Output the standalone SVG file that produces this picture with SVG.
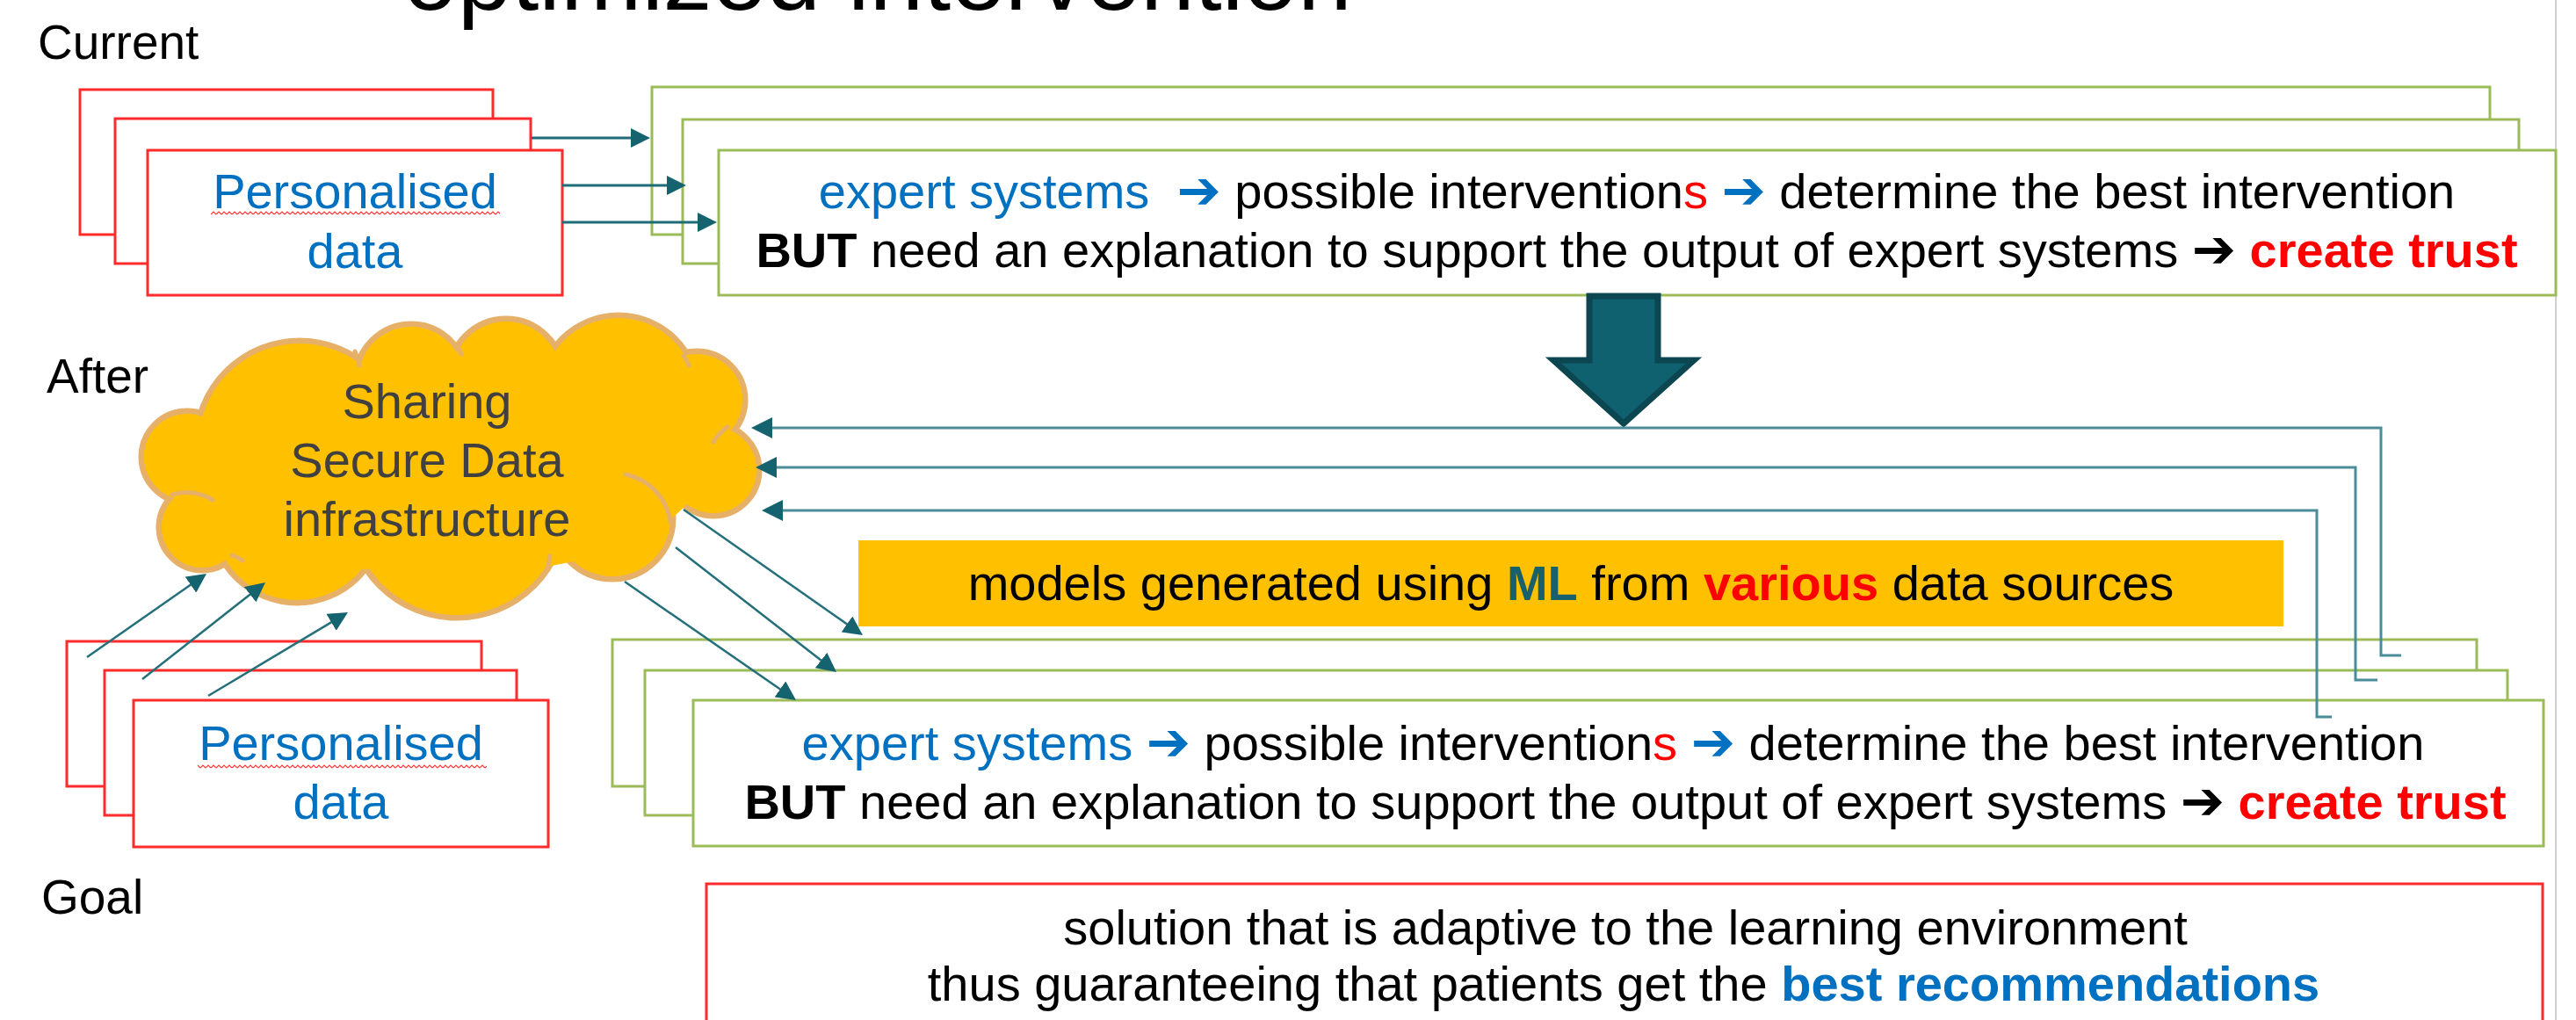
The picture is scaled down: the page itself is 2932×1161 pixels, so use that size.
<svg xmlns="http://www.w3.org/2000/svg" width="2932" height="1161" viewBox="0 0 2932 1161">
<defs>
<style>
text{font-family:"Liberation Sans",Arial,sans-serif;}
.t{font-size:56px;fill:#000;}
.lbl{font-size:55px;fill:#000;}
.pd{font-size:56px;fill:#0070C0;text-anchor:middle;}
.cl{font-size:56px;fill:#404040;text-anchor:middle;}
.red{fill:#fff;stroke:#FF2A2A;stroke-width:3;}
.grn{fill:#fff;stroke:#9BBB59;stroke-width:3;}
.b{font-weight:bold;}
.blue{fill:#0070C0;}
.rd{fill:#FF0000;}
.ar{font-family:"DejaVu Sans",sans-serif;font-weight:bold;font-size:60px;}
.con{fill:none;stroke:#1D6C77;stroke-width:3;}
.fb{fill:none;stroke:#4A8C98;stroke-width:3;}
.thin{fill:none;stroke:#236F7A;stroke-width:2.5;}
.lobe{fill:#FFC000;stroke:#E6B068;stroke-width:13;}
.lobef{fill:#FFC000;}
.inner{fill:none;stroke:#E6B068;stroke-width:5;stroke-linecap:round;}
</style>
<marker id="ah" viewBox="0 0 22 22" refX="12" refY="11" markerWidth="22" markerHeight="22" markerUnits="userSpaceOnUse" orient="auto"><path d="M0,0 L22,11 L0,22 z" fill="#15636F"/></marker>
<marker id="ah2" viewBox="0 0 24 24" refX="14" refY="12" markerWidth="24" markerHeight="24" markerUnits="userSpaceOnUse" orient="auto"><path d="M0,0 L24,12 L0,24 z" fill="#15636F"/></marker>
<pattern id="sq" width="6" height="5" patternUnits="userSpaceOnUse"><path d="M0,4 L3,1 L6,4" fill="none" stroke="#FF3030" stroke-width="1.2"/></pattern>
</defs>
<rect width="2932" height="1161" fill="#fff"/>
<line x1="2909" y1="0" x2="2909" y2="1161" stroke="#D0D0D0" stroke-width="2"/>

<g id="title"><text x="459" y="11" font-size="111" fill="#000">optimized intervention</text></g>
<g id="label-current"><text class="lbl" x="43" y="67">Current</text></g>
<g id="label-after"><text class="lbl" x="53" y="447">After</text></g>
<g id="label-goal"><text class="lbl" x="47" y="1040">Goal</text></g>

<!-- top personalised data stack -->
<g id="pd-top-1"><rect class="red" x="91" y="102" width="470" height="165"/></g>
<g id="pd-top-2"><rect class="red" x="131" y="135" width="473" height="165"/></g>
<g id="pd-top-3"><rect class="red" x="168" y="171" width="472" height="165"/>
<text class="pd" x="404" y="237">Personalised</text><text class="pd" x="404" y="305">data</text>
<rect x="240" y="240" width="329" height="5" fill="url(#sq)"/></g>

<!-- top expert systems stack -->
<g id="es-top-1"><rect class="grn" x="742" y="99" width="2092" height="168"/></g>
<g id="es-top-2"><rect class="grn" x="777" y="136" width="2090" height="164"/></g>
<g id="es-top-3"><rect class="grn" x="818" y="171" width="2091" height="165"/>
<text class="t" x="1863" y="237" text-anchor="middle"><tspan class="blue">expert systems</tspan>&#160; <tspan class="ar blue">➔</tspan> possible intervention<tspan class="rd">s</tspan> <tspan class="ar blue">➔</tspan> determine the best intervention</text>
<text class="t" x="1863" y="304" text-anchor="middle"><tspan class="b">BUT</tspan> need an explanation to support the output of expert systems <tspan class="ar">➔</tspan> <tspan class="b rd">create trust</tspan></text></g>

<!-- big down arrow -->
<g id="down-arrow"><polygon points="1809,337 1887,337 1887,410 1928,410 1848,482 1768,410 1809,410" fill="#0F6170" stroke="#0B4651" stroke-width="7"/></g>

<!-- cloud -->
<g id="cloud">
<circle class="lobe" cx="213" cy="520" r="49"/>
<circle class="lobe" cx="341" cy="506" r="115"/>
<circle class="lobe" cx="468" cy="432" r="60"/>
<circle class="lobe" cx="576" cy="428" r="62"/>
<circle class="lobe" cx="704" cy="450" r="88"/>
<circle class="lobe" cx="793" cy="455" r="52"/>
<circle class="lobe" cx="812" cy="535" r="49"/>
<circle class="lobe" cx="697" cy="590" r="66"/>
<circle class="lobe" cx="520" cy="579" r="121"/>
<circle class="lobe" cx="338" cy="588" r="95"/>
<circle class="lobe" cx="230" cy="600" r="46"/>
<circle class="lobef" cx="213" cy="520" r="49"/>
<circle class="lobef" cx="341" cy="506" r="115"/>
<circle class="lobef" cx="468" cy="432" r="60"/>
<circle class="lobef" cx="576" cy="428" r="62"/>
<circle class="lobef" cx="704" cy="450" r="88"/>
<circle class="lobef" cx="793" cy="455" r="52"/>
<circle class="lobef" cx="812" cy="535" r="49"/>
<circle class="lobef" cx="697" cy="590" r="66"/>
<circle class="lobef" cx="520" cy="579" r="121"/>
<circle class="lobef" cx="338" cy="588" r="95"/>
<circle class="lobef" cx="230" cy="600" r="46"/>
<ellipse class="lobef" cx="510" cy="530" rx="290" ry="125"/>
<path class="inner" d="M712,540 A64,64 0 0 1 763,594"/>
<path class="inner" d="M196,563 Q220,556 242,569"/>
<path class="inner" d="M812,503 Q818,493 828,486"/>
<path class="inner" d="M404,400 Q408,408 409,416"/>
<path class="inner" d="M520,393 Q523,398 525,403"/>
<path class="inner" d="M778,405 Q782,410 784,416"/>
<path class="inner" d="M419,650 Q424,655 428,661"/>
<path class="inner" d="M626,633 Q625,640 623,647"/>
<path class="inner" d="M264,632 Q270,634 276,638"/>
<text class="cl" x="486" y="476">Sharing</text>
<text class="cl" x="486" y="543">Secure Data</text>
<text class="cl" x="486" y="610">infrastructure</text>
</g>

<!-- ML box -->
<g id="ml-box"><rect x="977" y="615" width="1622" height="98" fill="#FFC000"/>
<text class="t" x="1788" y="683" text-anchor="middle">models generated using <tspan class="b" fill="#17606C">ML</tspan> from <tspan class="b rd">various</tspan> data sources</text></g>

<!-- lower personalised data stack -->
<g id="pd-low-1"><rect class="red" x="76" y="730" width="472" height="165"/></g>
<g id="pd-low-2"><rect class="red" x="119" y="763" width="469" height="165"/></g>
<g id="pd-low-3"><rect class="red" x="152" y="797" width="472" height="167"/>
<text class="pd" x="388" y="865">Personalised</text><text class="pd" x="388" y="932">data</text>
<rect x="225" y="870" width="329" height="5" fill="url(#sq)"/></g>

<!-- lower expert systems stack -->
<g id="es-low-1"><rect class="grn" x="697" y="728" width="2122" height="167"/></g>
<g id="es-low-2"><rect class="grn" x="734" y="763" width="2120" height="165"/></g>
<g id="es-low-3"><rect class="grn" x="789" y="797" width="2106" height="166"/>
<text class="t" x="1836" y="865" text-anchor="middle"><tspan class="blue">expert systems</tspan> <tspan class="ar blue">➔</tspan> possible intervention<tspan class="rd">s</tspan> <tspan class="ar blue">➔</tspan> determine the best intervention</text>
<text class="t" x="1850" y="932" text-anchor="middle"><tspan class="b">BUT</tspan> need an explanation to support the output of expert systems <tspan class="ar">➔</tspan> <tspan class="b rd">create trust</tspan></text></g>

<!-- goal -->
<g id="goal-box"><rect x="804" y="1006" width="2090" height="175" fill="#fff" stroke="#FF2A2A" stroke-width="3"/>
<text class="t" x="1850" y="1075" text-anchor="middle">solution that is adaptive to the learning environment</text>
<text class="t" x="1848" y="1139" text-anchor="middle">thus guaranteeing that patients get the <tspan class="b blue">best recommendations</tspan></text></g>

<!-- connectors -->
<g id="connectors">
<path class="con" d="M605,157 H730" marker-end="url(#ah)"/>
<path class="con" d="M640,211 H771" marker-end="url(#ah)"/>
<path class="con" d="M640,253 H806" marker-end="url(#ah)"/>
<path class="fb" d="M2733,746 H2710 V487 H865" marker-end="url(#ah2)"/>
<path class="fb" d="M2706,774 H2681 V532 H870" marker-end="url(#ah2)"/>
<path class="fb" d="M2654,816 H2637 V581 H877" marker-end="url(#ah2)"/>
<path class="thin" d="M99,748 L226.8,658.7" marker-end="url(#ah)"/>
<path class="thin" d="M162,773 L294.1,669.2" marker-end="url(#ah)"/>
<path class="thin" d="M237,792 L387.4,702.1" marker-end="url(#ah)"/>
<path class="thin" d="M778,580 L973.8,717.3" marker-end="url(#ah)"/>
<path class="thin" d="M769,623 L944.1,758.9" marker-end="url(#ah)"/>
<path class="thin" d="M711,662 L897.8,791.3" marker-end="url(#ah)"/>
</g>
</svg>
